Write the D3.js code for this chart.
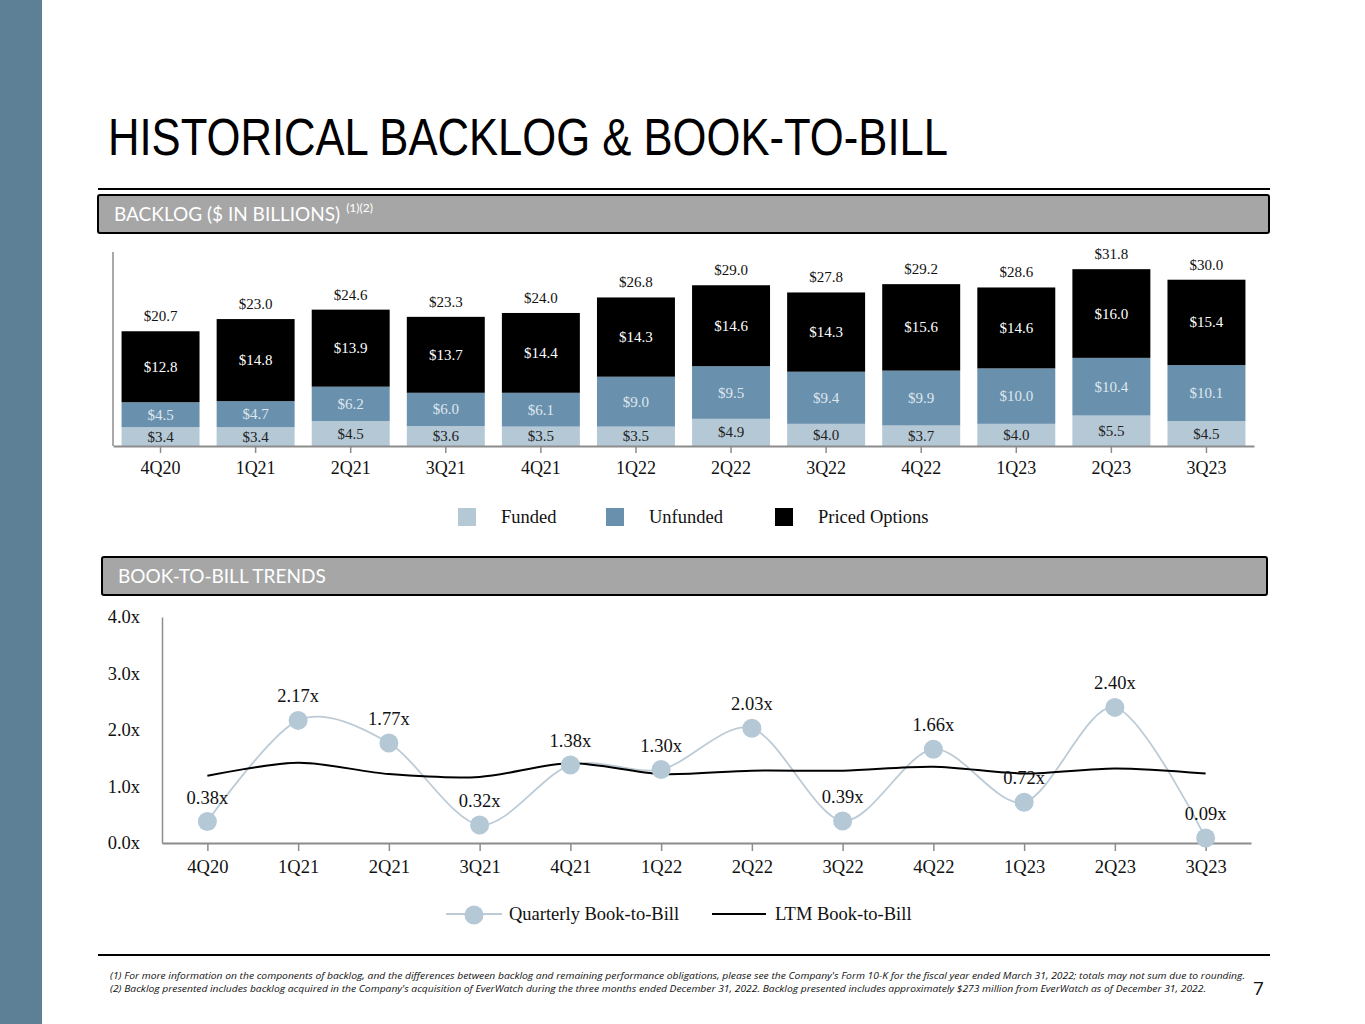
<!DOCTYPE html>
<html><head><meta charset="utf-8">
<script src="https://cdn.jsdelivr.net/npm/d3@7"></script>
<style>
html,body{margin:0;padding:0;background:#fff;}
svg{display:block;}
</style></head>
<body>
<script>
// ---- DATA ----
const quarters = ['4Q20','1Q21','2Q21','3Q21','4Q21','1Q22','2Q22','3Q22','4Q22','1Q23','2Q23','3Q23'];
const funded   = [3.4,3.4,4.5,3.6,3.5,3.5,4.9,4.0,3.7,4.0,5.5,4.5];
const unfunded = [4.5,4.7,6.2,6.0,6.1,9.0,9.5,9.4,9.9,10.0,10.4,10.1];
const priced   = [12.8,14.8,13.9,13.7,14.4,14.3,14.6,14.3,15.6,14.6,16.0,15.4];
const totals   = [20.7,23.0,24.6,23.3,24.0,26.8,29.0,27.8,29.2,28.6,31.8,30.0];
const quarterlyBTB = [0.38,2.17,1.77,0.32,1.38,1.30,2.03,0.39,1.66,0.72,2.40,0.09];
const ltmBTB       = [1.19,1.42,1.22,1.17,1.41,1.22,1.28,1.28,1.35,1.23,1.32,1.23];
const btbTicks = [0,1,2,3,4];
const seriesNames = ['Funded','Unfunded','Priced Options'];
const seriesColors = ['#b4c8d6','#6990ad','#000000'];

const W = 1365, H = 1024;
const svg = d3.select('body').append('svg').attr('width',W).attr('height',H);
const serif = "'Liberation Serif','Times New Roman',serif";

// sidebar
svg.append('rect').attr('x',0).attr('y',0).attr('width',42).attr('height',H).attr('fill','#5d8096');

// title
svg.append('text').attr('x',108).attr('y',155)
  .attr('font-family',"'Liberation Sans Narrow','Arial Narrow','Liberation Sans',sans-serif")
  .attr('font-size',52).attr('fill','#000')
  .attr('textLength',840).attr('lengthAdjust','spacingAndGlyphs')
  .text('HISTORICAL BACKLOG & BOOK-TO-BILL');

// section header helper
function header(x, y, w, h, label, sup, lineY){
  if(lineY!=null) svg.append('line').attr('x1',98).attr('x2',1270).attr('y1',lineY).attr('y2',lineY).attr('stroke','#000').attr('stroke-width',2);
  svg.append('rect').attr('x',x).attr('y',y).attr('width',w).attr('height',h).attr('rx',2)
    .attr('fill','#a6a6a6').attr('stroke','#000').attr('stroke-width',2);
  const t = svg.append('text').attr('x',x+16).attr('y',y+h/2+7)
    .attr('font-family',"Lato,'Open Sans',sans-serif").attr('font-size',19).attr('fill','#fff');
  t.append('tspan').text(label);
  if(sup) t.append('tspan').attr('dx',6).attr('dy',-9).attr('font-size',12).text(sup);
}
header(98,195,1171,38,'BACKLOG ($ IN BILLIONS)','(1)(2)',189);
header(102,557,1165,38,'BOOK-TO-BILL TRENDS',null,null);

// ---- BAR CHART ----
const bx = d3.scaleBand().domain(quarters).range([113,1254]).paddingInner(0.18).paddingOuter(0.09);
const by = d3.scaleLinear().domain([0,35]).range([446,252]);
const stackData = quarters.map((q,i)=>({q, Funded:funded[i], Unfunded:unfunded[i], 'Priced Options':priced[i]}));
const stacked = d3.stack().keys(seriesNames)(stackData);
const barG = svg.append('g');
stacked.forEach((layer,li)=>{
  barG.selectAll(null).data(layer).enter().append('rect')
    .attr('x',d=>bx(d.data.q)).attr('width',bx.bandwidth())
    .attr('y',d=>by(d[1])).attr('height',d=>by(d[0])-by(d[1]))
    .attr('fill',seriesColors[li]);
  const labelColors = ['#222','#dfe7ee','#fff'];
  barG.selectAll(null).data(layer).enter().append('text')
    .attr('x',d=>bx(d.data.q)+bx.bandwidth()/2)
    .attr('y',d=>(by(d[0])+by(d[1]))/2+5)
    .attr('text-anchor','middle').attr('font-family',serif).attr('font-size',15)
    .attr('fill',labelColors[li])
    .text(d=>'$'+d.data[layer.key].toFixed(1));
});
barG.selectAll(null).data(quarters).enter().append('text')
  .attr('x',q=>bx(q)+bx.bandwidth()/2)
  .attr('y',(q,i)=>by(d3.sum([funded[i],unfunded[i],priced[i]]))-10)
  .attr('text-anchor','middle').attr('font-family',serif).attr('font-size',15).attr('fill','#111')
  .text((q,i)=>'$'+totals[i].toFixed(1));
// axes
const bxAxis = svg.append('g').attr('transform','translate(0,446)')
  .call(d3.axisBottom(bx).tickSize(7).tickPadding(8).tickSizeOuter(0));
bxAxis.select('.domain').attr('stroke','#8c8c8c').attr('stroke-width',2);
bxAxis.selectAll('.tick line').attr('stroke','#8c8c8c').attr('stroke-width',1.5);
bxAxis.selectAll('text').attr('font-family',serif).attr('font-size',18).attr('fill','#111');
svg.append('line').attr('x1',113).attr('x2',113).attr('y1',by.range()[1]).attr('y2',446).attr('stroke','#8c8c8c').attr('stroke-width',1.5);

// bar legend
const legX = [458,606,775];
seriesNames.forEach((n,i)=>{
  svg.append('rect').attr('x',legX[i]).attr('y',508).attr('width',18).attr('height',18).attr('fill',seriesColors[i]);
  svg.append('text').attr('x',legX[i]+43).attr('y',523).attr('font-family',serif).attr('font-size',18.5).attr('fill','#111').text(n);
});

// ---- LINE CHART ----
const lx = d3.scalePoint().domain(quarters).range([162,1251]).padding(0.5);
const ly = d3.scaleLinear().domain([0,4]).range([843,617]);
const lxAxis = svg.append('g').attr('transform','translate(0,843)')
  .call(d3.axisBottom(lx).tickSize(8).tickPadding(9).tickSizeOuter(0));
lxAxis.select('.domain').attr('stroke','#8c8c8c').attr('stroke-width',2);
lxAxis.selectAll('.tick line').attr('stroke','#8c8c8c').attr('stroke-width',1.5);
lxAxis.selectAll('text').attr('font-family',serif).attr('font-size',18.5).attr('fill','#111');
const lyAxis = svg.append('g').attr('transform','translate(162,0)')
  .call(d3.axisLeft(ly).tickValues(btbTicks).tickSize(0).tickPadding(22).tickFormat(d=>d.toFixed(1)+'x'));
lyAxis.select('.domain').attr('stroke','#8c8c8c').attr('stroke-width',1.5);
lyAxis.selectAll('text').attr('font-family',serif).attr('font-size',18.5).attr('fill','#111');

const curve = d3.curveCardinal.tension(0.1);
const qLine = d3.line().x((d,i)=>lx(quarters[i])).y(d=>ly(d)).curve(curve);
svg.append('path').datum(quarterlyBTB).attr('d',qLine).attr('fill','none').attr('stroke','#bccbd6').attr('stroke-width',1.8);
svg.append('path').datum(ltmBTB).attr('d',qLine).attr('fill','none').attr('stroke','#000').attr('stroke-width',2);
svg.selectAll(null).data(quarterlyBTB).enter().append('circle')
  .attr('cx',(d,i)=>lx(quarters[i])).attr('cy',d=>ly(d)).attr('r',9.5).attr('fill','#b4c8d6');
svg.selectAll(null).data(quarterlyBTB).enter().append('text')
  .attr('x',(d,i)=>lx(quarters[i])).attr('y',d=>ly(d)-18)
  .attr('text-anchor','middle').attr('font-family',serif).attr('font-size',18.5).attr('fill','#111')
  .text(d=>d.toFixed(2)+'x');

// line legend
svg.append('line').attr('x1',446).attr('x2',502).attr('y1',914).attr('y2',914).attr('stroke','#bccbd6').attr('stroke-width',1.8);
svg.append('circle').attr('cx',474).attr('cy',915).attr('r',9.5).attr('fill','#b4c8d6');
svg.append('text').attr('x',509).attr('y',920).attr('font-family',serif).attr('font-size',18.5).attr('fill','#111').text('Quarterly Book-to-Bill');
svg.append('line').attr('x1',712).attr('x2',766).attr('y1',914).attr('y2',914).attr('stroke','#000').attr('stroke-width',1.8);
svg.append('text').attr('x',775).attr('y',920).attr('font-family',serif).attr('font-size',18.5).attr('fill','#111').text('LTM Book-to-Bill');

// bottom rule & footnotes
svg.append('line').attr('x1',98).attr('x2',1270).attr('y1',955).attr('y2',955).attr('stroke','#000').attr('stroke-width',2);
const fnFont = "'Open Sans',Lato,sans-serif";
svg.append('text').attr('x',110).attr('y',979).attr('font-family',fnFont).attr('font-style','italic').attr('font-size',9.5).attr('fill','#111')
  .attr('textLength',1135).attr('lengthAdjust','spacingAndGlyphs')
  .text("(1) For more information on the components of backlog, and the differences between backlog and remaining performance obligations, please see the Company's Form 10-K for the fiscal year ended March 31, 2022; totals may not sum due to rounding.");
svg.append('text').attr('x',110).attr('y',992).attr('font-family',fnFont).attr('font-style','italic').attr('font-size',9.5).attr('fill','#111')
  .attr('textLength',1096).attr('lengthAdjust','spacingAndGlyphs')
  .text("(2) Backlog presented includes backlog acquired in the Company's acquisition of EverWatch during the three months ended December 31, 2022. Backlog presented includes approximately $273 million from EverWatch as of December 31, 2022.");
svg.append('text').attr('x',1253).attr('y',995).attr('font-family',"'Liberation Sans Narrow','Open Sans',sans-serif").attr('font-size',19).attr('fill','#111').text('7');
</script>
</body></html>
